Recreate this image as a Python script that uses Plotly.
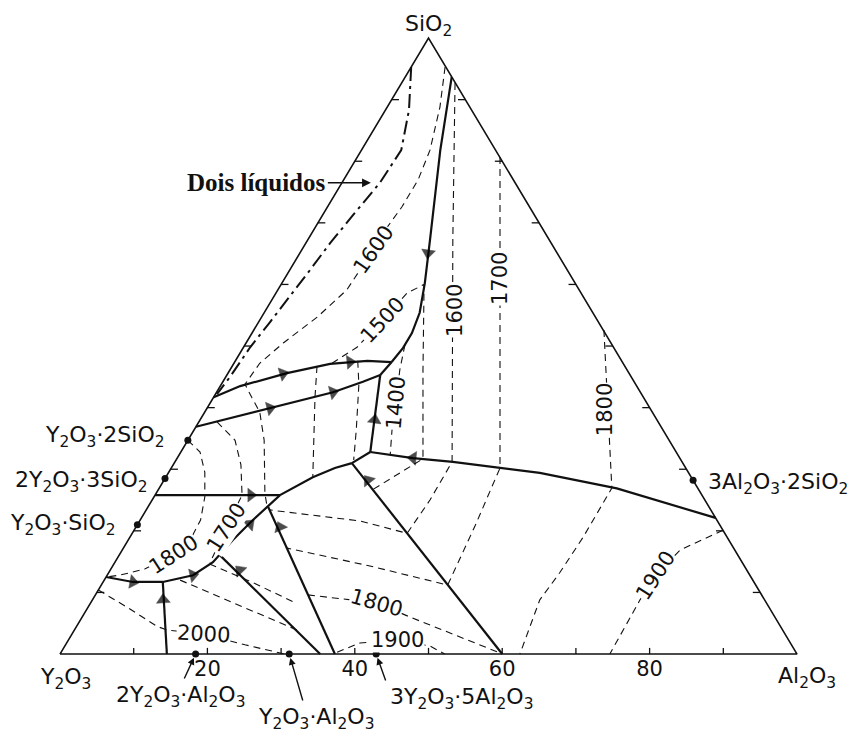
import numpy as np
import plotly.graph_objects as go

# Y2O3 - Al2O3 - SiO2 liquidus diagram, compositions in wt% given as
# (Al2O3, SiO2); Y2O3 is the remainder.
S3 = np.sqrt(3) / 2


def to_xy(points):
    al = np.array([p[0] for p in points], float)
    si = np.array([p[1] for p in points], float)
    return al + si / 2, si * S3


# ---- bounding triangle and edge ticks ---------------------------------
triangle = [(0, 0), (100, 0), (0, 100), (0, 0)]
edge_ticks = [10, 20, 30, 40, 50, 60, 70, 80, 90]
bottom_labels = [20, 40, 60, 80]

# ---- boundary curves (solid) ------------------------------------------
b_silica = [(6.3, 93.7), (10.7, 81.8), (16.6, 67.2), (19.4, 60.2), (21.1, 55.4),
            (21.7, 52.1), (21.7, 49.7), (21.3, 47.4)]
b_upper = [(0, 41.7), (2.7, 43.5), (8.0, 45.6), (13.1, 47.1), (17.9, 47.6), (21.3, 47.4)]
b_link = [(21.3, 47.4), (20.8, 45.3)]
b_lower = [(0, 36.9), (8.55, 39.9), (15.8, 42.5), (19.0, 44.2), (20.8, 45.3)]
b_vert = [(20.8, 45.3), (25.7, 32.8)]
b_mullite = [(25.7, 32.8), (32.0, 31.8), (37.7, 31.2), (44.6, 30.2), (50.4, 29.4),
             (62.1, 26.9), (77.9, 22.1)]
b_short = [(24.1, 31.0), (25.7, 32.8)]
b_curve = [(0, 12.5), (4.05, 11.7), (8.1, 11.7), (11.65, 12.8), (13.3, 14.9), (14.2, 18.5),
           (15.3, 21.75), (16.15, 23.9), (16.95, 25.8), (19.95, 28.7), (22.2, 30.2), (24.1, 31.0)]
b_horiz = [(0, 25.8), (16.95, 25.8)]
b_y4al2 = [(8.1, 11.7), (14.5, 0)]
b_yal = [(13.6, 16.1), (35.3, 0)]
b_yag = [(16.2, 24.0), (37.3, 0)]
b_diag = [(60, 0), (24.1, 31.0)]
boundaries = [b_silica, b_upper, b_link, b_lower, b_vert, b_mullite, b_short,
              b_curve, b_horiz, b_y4al2, b_yal, b_yag, b_diag]

# arrows: (point behind, arrow point) along the boundaries
arrows = [
    ((16.6, 67.2), (17.4, 65.1)),
    ((2.7, 43.5), (7.5, 45.5)),
    ((13.1, 47.1), (15.65, 47.4)),
    ((4.0, 38.3), (8.55, 39.9)),
    ((8.55, 39.9), (15.8, 42.5)),
    ((25.7, 32.8), (23.7, 38.0)),
    ((37.7, 31.2), (32.0, 31.8)),
    ((0, 12.5), (4.05, 11.7)),
    ((8.1, 11.7), (11.65, 12.8)),
    ((14.2, 18.5), (15.2, 21.1)),
    ((0, 25.8), (13.0, 25.8)),
    ((14.5, 0), (9.6, 8.8)),
    ((35.3, 0), (17.6, 13.6)),
    ((37.3, 0), (19.55, 20.6)),
    ((60, 0), (27.7, 28.2)),
]

# ---- liquid immiscibility (dash-dot) ------------------------------------
two_liquids = [(0, 95.3), (3.2, 88.3), (5.4, 81.8), (5.15, 76.5), (4.2, 71.6), (3.3, 66.7),
               (2.75, 62.3), (2.2, 58.0), (1.55, 53.9), (0.9, 49.8), (0.57, 45.0), (0.2, 42.2)]

# ---- isotherms (dashed) -----------------------------------------------
iso_1600_a = [(4.6, 95.3), (7.15, 88.8), (9.3, 81.8), (10.1, 76.95), (10.1, 72.6), (9.75, 69.3),
              (9.7, 65.6), (9.35, 59.1), (7.55, 54.7), (5.05, 50.5), (3.5, 47.2), (3.2, 43.8),
              (5.25, 41.6), (7.45, 39.3), (10.35, 34.7), (12.75, 29.9), (14.75, 26.1), (16.15, 23.9)]
iso_1600_b = [(7.25, 92.7), (19.7, 67.2), (37.6, 31.2), (37.7, 25.0), (37.3, 19.6),
              (29.9, 21.6), (16.7, 23.4)]
iso_1500 = [(13.3, 47.2), (15.4, 49.8), (16.7, 54.2), (17.8, 58.6), (19.4, 60.0),
            (26.2, 46.1), (33.4, 31.7), (29.0, 26.6)]
iso_1550_a = [(16.6, 47.6), (18.7, 43.7), (22.0, 36.4), (24.1, 31.5)]
iso_1550_b = [(11.5, 46.75), (13.75, 41.7), (19.95, 28.7)]
iso_1400 = [(21.7, 50.2), (23.05, 46.1), (25.25, 40.7), (26.85, 36.4), (28.65, 32.3)]
iso_1700 = [(19.35, 80.7), (44.6, 30.2), (45.9, 20.9), (47.0, 11.2), (34.9, 14.3), (22.2, 17.2)]
iso_1700_l = [(2.45, 37.7), (6.4, 34.7), (9.2, 30.7), (11.8, 25.8), (12.3, 20.45), (12.95, 14.8)]
iso_1800_l = [(0, 34.7), (2.6, 32.8), (4.9, 29.5), (6.9, 25.5), (8.2, 21.75), (8.4, 18.5),
              (7.3, 16.1), (4.6, 13.8), (1.7, 12.8), (0, 12.5)]
iso_1800_r = [(47.5, 52.6), (61.4, 26.95), (61.5, 19.0), (61.2, 13.15), (60.7, 8.8), (62.4, 0)]
iso_1800_m = [(28.85, 9.6), (38.85, 8.3), (44.5, 6.0), (52.05, 3.1), (59.3, 0.3)]
iso_1850 = [(10.3, 12.0), (30.2, 3.9)]
iso_1850_b = [(13.0, 14.6), (20.4, 11.6), (28.0, 8.2)]
iso_1900_r = [(79.9, 20.1), (75.7, 16.9), (74.4, 12.7), (74.3, 8.8), (74.6, 0)]
iso_1900_b = [(37.45, 0.3), (39.8, 1.8), (44.7, 2.3), (49.55, 1.3), (52.2, 0)]
iso_2000 = [(0, 10.4), (5.3, 7.6), (10.9, 4.5), (12.55, 3.9), (17.9, 3.25), (24.35, 1.5), (30.5, 0)]
isotherms = [iso_1600_a, iso_1600_b, iso_1500, iso_1550_a, iso_1550_b, iso_1400, iso_1700,
             iso_1700_l, iso_1800_l, iso_1800_r, iso_1800_m, iso_1850, iso_1850_b,
             iso_1900_r, iso_1900_b, iso_2000]

# isotherm labels: (text, Al2O3, SiO2, text angle)
iso_labels = [
    ("1600", 9.7, 65.6, -55), ("1500", 16.7, 54.2, -47), ("1600", 25.75, 55.7, -90),
    ("1700", 29.3, 61.0, -90), ("1400", 25.25, 40.7, -85), ("1800", 54.15, 39.6, -90),
    ("1900", 74.4, 12.7, -57), ("1800", 7.3, 16.1, -33), ("1700", 12.3, 20.45, -57),
    ("1800", 38.85, 8.3, 16), ("1900", 44.7, 2.3, 0), ("2000", 17.9, 3.25, 3),
]

# ---- compounds -------------------------------------------------------------
compounds = ["Y<sub>2</sub>O<sub>3</sub>·2SiO<sub>2</sub>",
             "2Y<sub>2</sub>O<sub>3</sub>·3SiO<sub>2</sub>",
             "Y<sub>2</sub>O<sub>3</sub>·SiO<sub>2</sub>",
             "2Y<sub>2</sub>O<sub>3</sub>·Al<sub>2</sub>O<sub>3</sub>",
             "Y<sub>2</sub>O<sub>3</sub>·Al<sub>2</sub>O<sub>3</sub>",
             "3Y<sub>2</sub>O<sub>3</sub>·5Al<sub>2</sub>O<sub>3</sub>",
             "3Al<sub>2</sub>O<sub>3</sub>·2SiO<sub>2</sub>"]
comp_al = [0, 0, 0, 18.4, 31.1, 42.9, 71.8]
comp_si = [34.7, 28.5, 21.0, 0, 0, 0, 28.2]

FONT = "DejaVu Sans"
INK = "#111111"

fig = go.Figure()

# triangle
tx, ty = to_xy(triangle)
fig.add_trace(go.Scatter(x=tx, y=ty, mode="lines", line=dict(color=INK, width=1.6),
                         hoverinfo="skip"))

# inward tick marks on the three edges
tk = []
for t in edge_ticks:
    tk += [(t, 0), (t - 0.5, 1.0), (None, None)]
    tk += [(0, t), (1.0, t), (None, None)]
    tk += [(100 - t, t), (99 - t, t), (None, None)]
tkx = [None if a is None else a + s / 2 for a, s in tk]
tky = [None if s is None else s * S3 for a, s in tk]
fig.add_trace(go.Scatter(x=tkx, y=tky, mode="lines", line=dict(color=INK, width=1.3),
                         hoverinfo="skip"))

for iso in isotherms:
    x, y = to_xy(iso)
    fig.add_trace(go.Scatter(x=x, y=y, mode="lines",
                             line=dict(color=INK, width=1.1, dash="7px,5px"),
                             hoverinfo="skip"))

x, y = to_xy(two_liquids)
fig.add_trace(go.Scatter(x=x, y=y, mode="lines",
                         line=dict(color=INK, width=2.0, dash="14px,5px,3px,5px"),
                         hoverinfo="skip"))

for b in boundaries:
    x, y = to_xy(b)
    fig.add_trace(go.Scatter(x=x, y=y, mode="lines", line=dict(color=INK, width=2.2),
                             hoverinfo="skip"))

apts = []
for prev, tip in arrows:
    apts += [prev, tip]
ax_, ay_ = to_xy(apts)
fig.add_trace(go.Scatter(x=ax_, y=ay_, mode="markers", hoverinfo="skip",
                         marker=dict(symbol="triangle-up", angleref="previous", color="black",
                                     size=[0, 12] * len(arrows),
                                     line=dict(width=0.5, color="black"))))

cx, cy = to_xy(list(zip(comp_al, comp_si)))
fig.add_trace(go.Scatter(x=cx, y=cy, mode="markers", hoverinfo="skip",
                         marker=dict(size=7, color=INK), cliponaxis=False))

ann = []
for txt, al, si, ang in iso_labels:
    (px,), (py,) = to_xy([(al, si)])
    ann.append(dict(x=px, y=py, text=txt, textangle=ang, showarrow=False,
                    bgcolor="white", borderpad=0,
                    font=dict(family=FONT, size=21, color=INK)))


def comp_at(i):
    (px,), (py,) = to_xy([(comp_al[i], comp_si[i])])
    return px, py


lab_font = dict(family=FONT, size=22, color=INK)
# labels on the SiO2 - Y2O3 edge
for i, xs, ys in [(0, -21, 4), (1, -15, -3), (2, -19, 0)]:
    px, py = comp_at(i)
    ann.append(dict(x=px, y=py, text=compounds[i], showarrow=False, xanchor="right",
                    xshift=xs, yshift=ys, font=lab_font))
# mullite
px, py = comp_at(6)
ann.append(dict(x=px, y=py, text=compounds[6], showarrow=False, xanchor="left",
                xshift=13, yshift=-3, font=lab_font))
# compounds on the Y2O3 - Al2O3 edge, each with a pointer
for i, tail, anchor, xs in [(3, (-12, 26), "center", -15), (4, (14, 48), "center", 27),
                            (5, (10, 28), "left", 12)]:
    px, py = comp_at(i)
    ann.append(dict(x=px, y=py, text="", showarrow=True, ax=tail[0], ay=tail[1],
                    arrowhead=2, arrowsize=1, arrowwidth=1.4, arrowcolor=INK, standoff=4))
    ann.append(dict(x=px, y=py, text=compounds[i], showarrow=False, xanchor=anchor,
                    yanchor="top", xshift=xs, yshift=-tail[1], font=lab_font))

# vertex names
for (al, si), txt, xs, ys, ya in [((0, 100), "SiO<sub>2</sub>", 0, -4, "bottom"),
                                  ((0, 0), "Y<sub>2</sub>O<sub>3</sub>", 6, -8, "top"),
                                  ((100, 0), "Al<sub>2</sub>O<sub>3</sub>", 10, -7, "top")]:
    (px,), (py,) = to_xy([(al, si)])
    ann.append(dict(x=px, y=py, text=txt, showarrow=False, xanchor="center", yanchor=ya,
                    xshift=xs, yshift=ys, font=dict(family=FONT, size=22, color=INK)))

# two-liquid region pointer
(px,), (py,) = to_xy([(5.15, 76.5)])
ann.append(dict(x=px, y=py, text="<b>Dois líquidos</b>", showarrow=True, ax=-52, ay=0,
                xanchor="right", arrowhead=2, arrowsize=1.1, arrowwidth=1.6, arrowcolor=INK,
                standoff=9, font=dict(family="Liberation Serif", size=25, color=INK)))

fig.update_layout(
    width=852, height=733,
    margin=dict(l=0, r=0, t=0, b=0),
    paper_bgcolor="white", plot_bgcolor="white",
    showlegend=False,
    annotations=ann,
    xaxis=dict(range=[-8.14, 107.46], showgrid=False, zeroline=False, showline=False,
               tickmode="array", tickvals=bottom_labels,
               ticktext=[str(v) for v in bottom_labels], ticks="",
               anchor="free", position=79 / 733,
               tickfont=dict(family=FONT, size=21, color=INK)),
    yaxis=dict(range=[-11.10, 91.95], visible=False),
)

fig.write_html("out.html")
